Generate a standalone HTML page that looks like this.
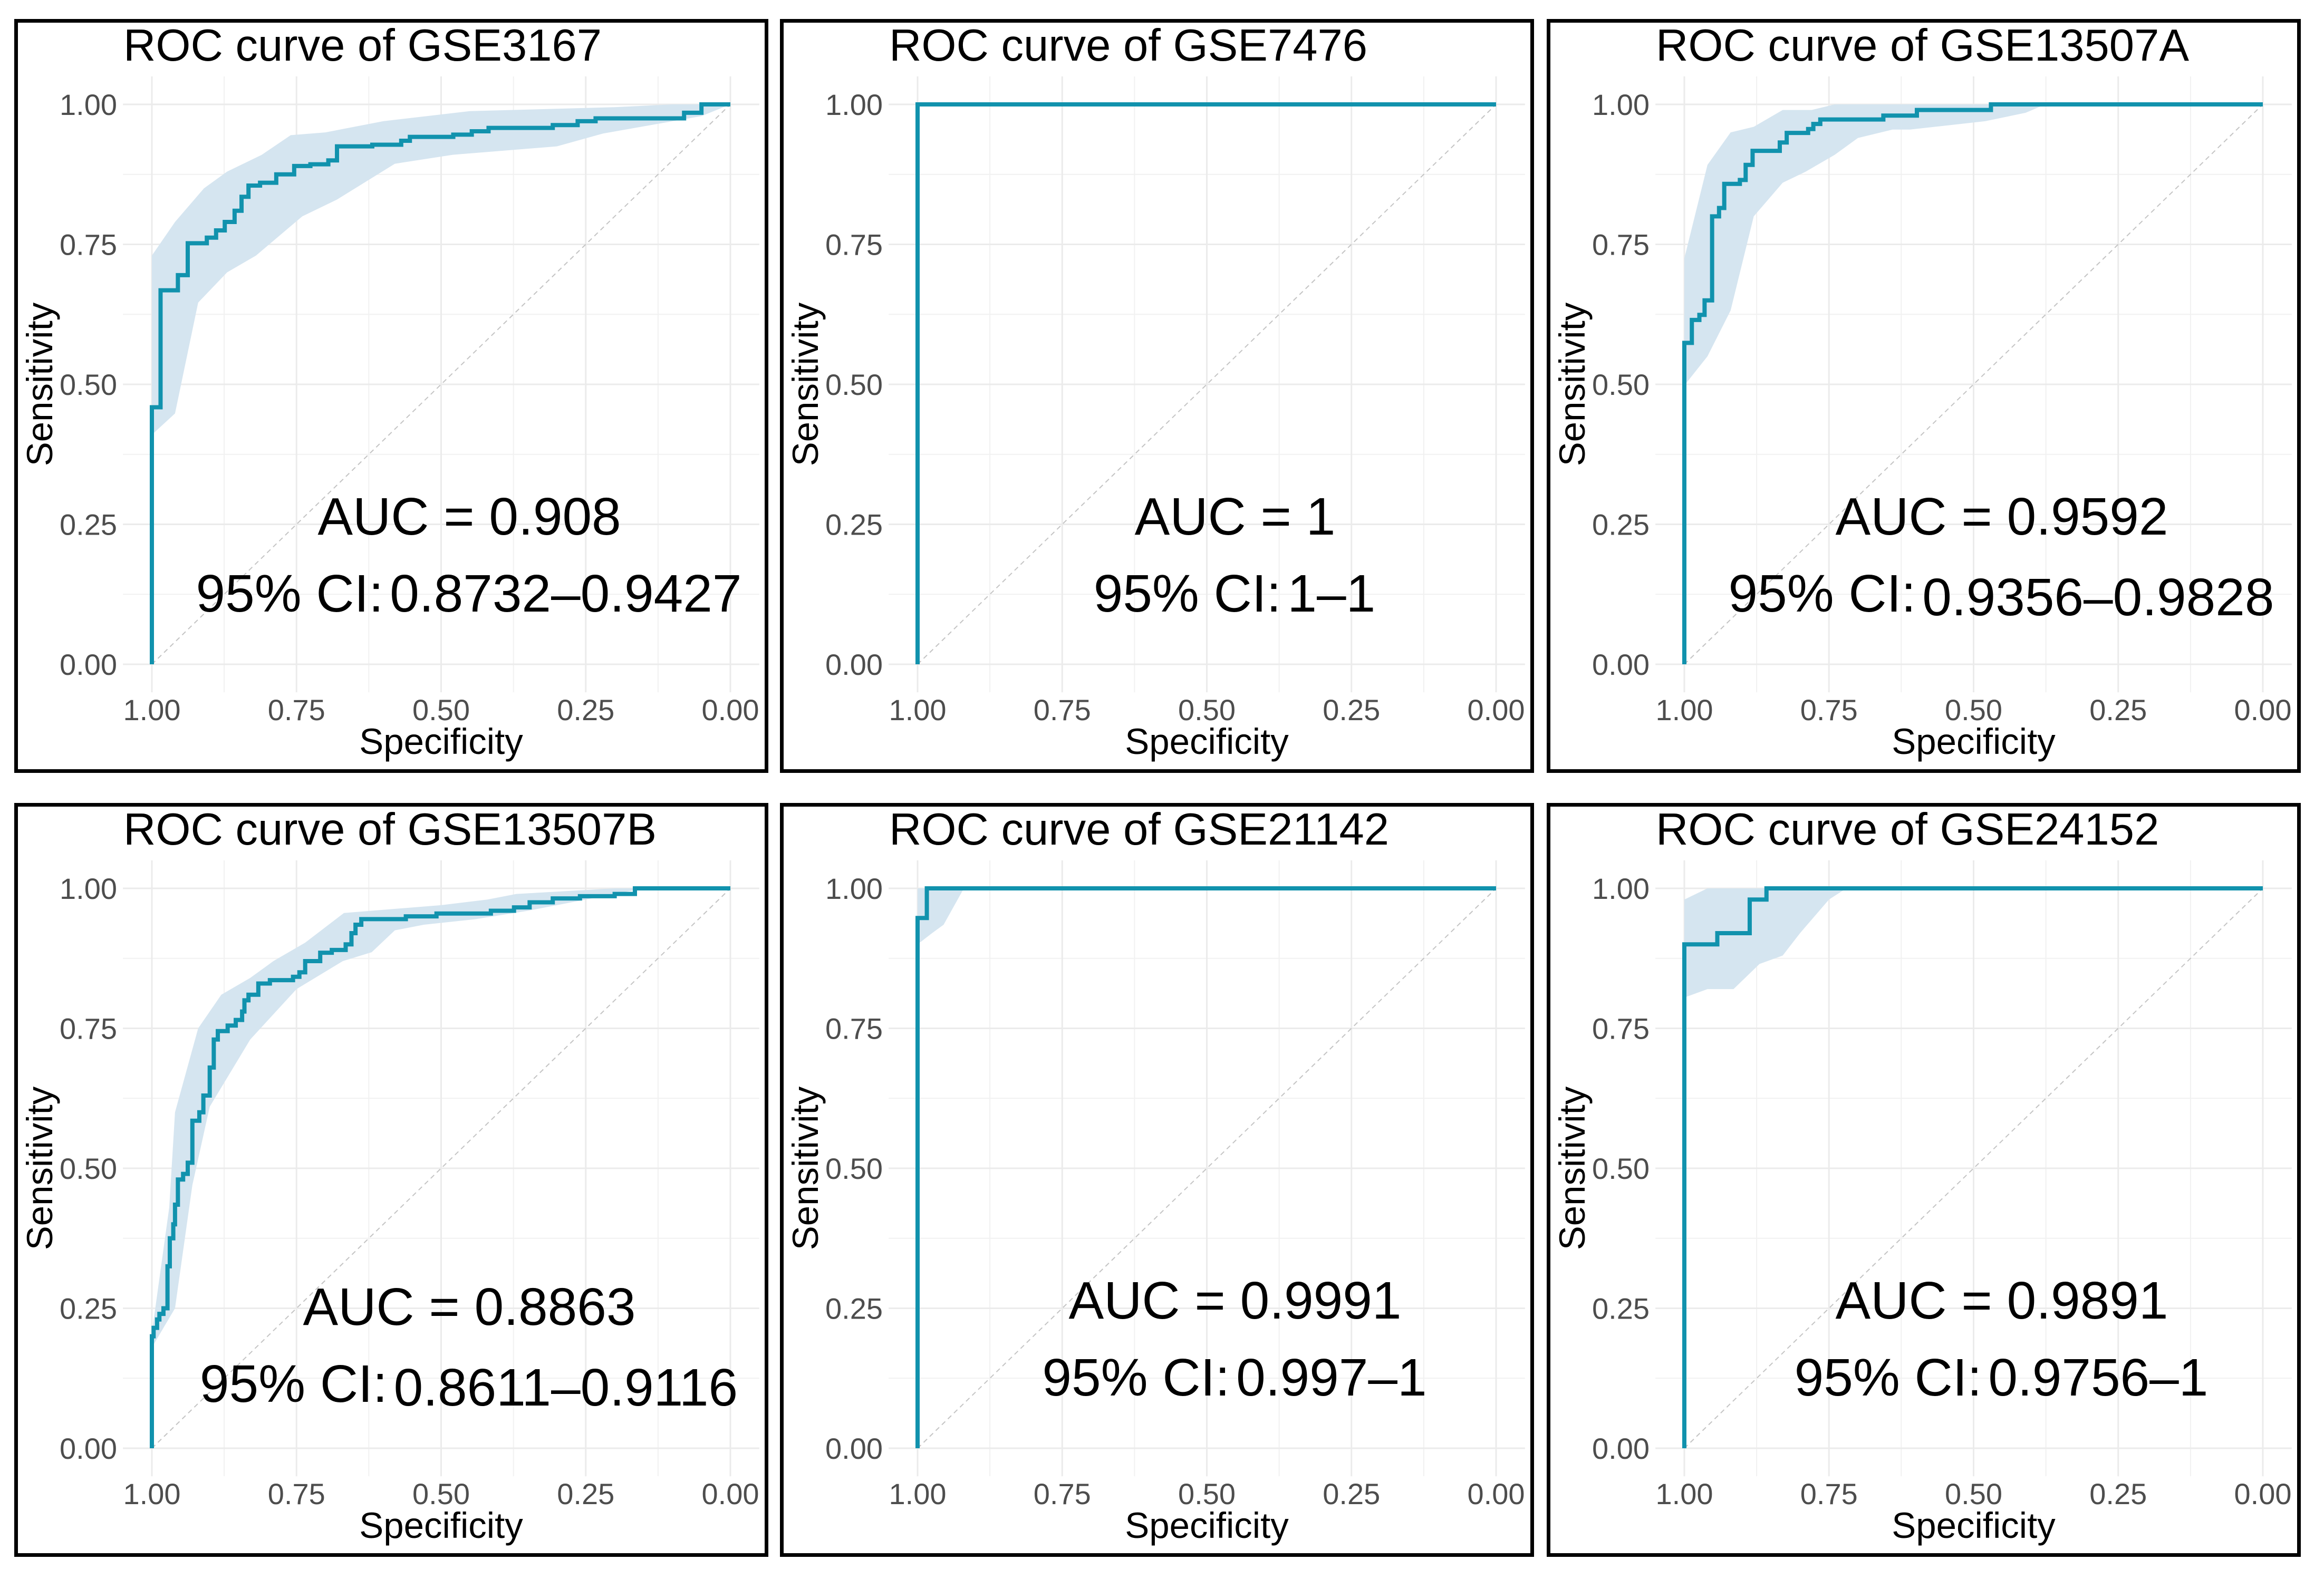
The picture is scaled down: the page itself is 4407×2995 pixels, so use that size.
<!DOCTYPE html>
<html><head><meta charset="utf-8"><style>
html,body{margin:0;padding:0;background:#fff}
svg{display:block}
text{font-family:"Liberation Sans",Arial,sans-serif}
</style></head><body>
<svg id="fig" xmlns="http://www.w3.org/2000/svg" width="4407" height="2995" viewBox="0 0 4407 2995"></svg>
<script>
// ---- data (specificity / sensitivity) ----
const titles = ["ROC curve of GSE3167","ROC curve of GSE7476","ROC curve of GSE13507A","ROC curve of GSE13507B","ROC curve of GSE21142","ROC curve of GSE24152"];
const aucLabels = ["AUC = 0.908","AUC = 1","AUC = 0.9592","AUC = 0.8863","AUC = 0.9991","AUC = 0.9891"];
const ciLabels = ["0.8732\u20130.9427","1\u20131","0.9356\u20130.9828","0.8611\u20130.9116","0.997\u20131","0.9756\u20131"];
const tickVals = [1.00,0.75,0.50,0.25,0.00];
const tickLabels = ["1.00","0.75","0.50","0.25","0.00"];
const minorVals = [0.875,0.625,0.375,0.125];

const p1Spec = [1,.985,.955,.938,.905,.889,.874,.857,.845,.833,.813,.785,.754,.726,.695,.68,.619,.569,.554,.479,.447,.418,.307,.264,.233,.08,.05];
const p1Sens = [.459,.668,.695,.752,.762,.775,.79,.81,.835,.855,.86,.875,.89,.893,.9,.925,.928,.935,.942,.946,.952,.958,.963,.97,.975,.985,1];
const p1HiSpec = [1,.96,.91,.87,.81,.76,.7,.6,.45,.2,.1,0];
const p1Hi = [.73,.79,.85,.88,.91,.945,.95,.97,.988,.995,1,1];
const p1LoSpec = [1,.96,.92,.87,.82,.74,.68,.58,.48,.3,.22,.05,0];
const p1Lo = [.41,.448,.646,.7,.73,.8,.83,.894,.91,.925,.948,.979,1];

const p2Spec = [1];
const p2Sens = [1];
const p2HiSpec = [];
const p2Hi = [];
const p2LoSpec = [];
const p2Lo = [];

const p3Spec = [1,.987,.974,.965,.952,.94,.931,.904,.894,.882,.835,.823,.786,.777,.765,.656,.598,.47];
const p3Sens = [.574,.615,.624,.65,.8,.815,.858,.865,.892,.917,.932,.949,.956,.965,.973,.98,.99,1];
const p3HiSpec = [1,.96,.92,.88,.83,.78,.74,0];
const p3Hi = [.725,.892,.95,.96,.99,.99,1,1];
const p3LoSpec = [1,.96,.92,.88,.83,.79,.74,.7,.64,.61,.48,.41,.385,0];
const p3Lo = [.498,.55,.632,.8,.86,.88,.91,.94,.955,.955,.97,.985,.996,1];

const p4Spec = [1,.997,.991,.987,.98,.973,.969,.963,.96,.955,.946,.938,.93,.918,.911,.9,.893,.886,.869,.855,.844,.84,.833,.816,.796,.756,.745,.735,.709,.689,.665,.655,.648,.638,.561,.508,.414,.374,.347,.307,.26,.2,.165];
const p4Sens = [.2,.215,.23,.24,.25,.325,.375,.4,.435,.48,.49,.51,.585,.6,.63,.68,.73,.745,.755,.765,.78,.8,.81,.83,.836,.842,.85,.87,.885,.89,.9,.92,.935,.945,.95,.955,.96,.966,.975,.982,.986,.99,1];
const p4HiSpec = [1,.97,.96,.92,.88,.83,.79,.735,.668,.5,.42,.37,.2,0];
const p4Hi = [.206,.43,.6,.75,.81,.84,.87,.903,.956,.97,.98,.99,1,1];
const p4LoSpec = [1,.96,.93,.9,.83,.75,.67,.62,.58,.53,.44,.35,.2,.15,0];
const p4Lo = [.18,.25,.47,.61,.73,.82,.87,.886,.925,.935,.945,.96,.99,1,1];

const p5Spec = [1,.984];
const p5Sens = [.947,1];
const p5HiSpec = [1,0];
const p5Hi = [1,1];
const p5LoSpec = [1,.975,.955,.92,0];
const p5Lo = [.9,.92,.935,1,1];

const p6Spec = [1,.943,.887,.858];
const p6Sens = [.9,.92,.98,1];
const p6HiSpec = [1,.96,0];
const p6Hi = [.98,1,1];
const p6LoSpec = [1,.96,.915,.87,.83,.8,.75,.72,0];
const p6Lo = [.805,.82,.82,.865,.88,.92,.98,1,1];

const curveSpecs = [p1Spec,p2Spec,p3Spec,p4Spec,p5Spec,p6Spec];
const curveSens = [p1Sens,p2Sens,p3Sens,p4Sens,p5Sens,p6Sens];
const hiSpecs = [p1HiSpec,p2HiSpec,p3HiSpec,p4HiSpec,p5HiSpec,p6HiSpec];
const his = [p1Hi,p2Hi,p3Hi,p4Hi,p5Hi,p6Hi];
const loSpecs = [p1LoSpec,p2LoSpec,p3LoSpec,p4LoSpec,p5LoSpec,p6LoSpec];
const los = [p1Lo,p2Lo,p3Lo,p4Lo,p5Lo,p6Lo];

// ---- layout ----
const NS = "http://www.w3.org/2000/svg";
const svg = document.getElementById("fig");
const colX = [27,1479,2933];
const rowY = [36,1523];
const PW = 1430, PH = 1430;
const X1 = 261, X0 = 1358, Y1 = 162, Y0 = 1224;
function sx(spec){ return X0 + (X1 - X0) * spec; }
function sy(sens){ return Y0 + (Y1 - Y0) * sens; }
function mk(tag, attrs, parent){
  const e = document.createElementNS(NS, tag);
  for (const k in attrs) e.setAttribute(k, attrs[k]);
  parent.appendChild(e);
  return e;
}

for (let i = 0; i < 6; i++){
  const g = mk("g", {transform:"translate(" + colX[i%3] + "," + rowY[Math.floor(i/3)] + ")"}, svg);
  
  

  const gx0 = sx(1.05), gx1 = sx(-0.05), gy0 = sy(1.05), gy1 = sy(-0.05);
  minorVals.forEach(v => {
    const a = mk("line", {x1:sx(v),x2:sx(v),y1:gy0,y2:gy1,stroke:"#f1f1f1","stroke-width":2}, g);
    
    
    const b = mk("line", {x1:gx0,x2:gx1,y1:sy(v),y2:sy(v),stroke:"#f1f1f1","stroke-width":2}, g);
    
    
  });
  tickVals.forEach((v, k) => {
    const a = mk("line", {x1:sx(v),x2:sx(v),y1:gy0,y2:gy1,stroke:"#ebebeb","stroke-width":3}, g);
    
    
    const b = mk("line", {x1:gx0,x2:gx1,y1:sy(v),y2:sy(v),stroke:"#ebebeb","stroke-width":3}, g);
    
    
    const tx = mk("text", {x:sx(v), y:1330, "font-size":56, fill:"#4d4d4d", "text-anchor":"middle"}, g);
    tx.textContent = tickLabels[k];
    
    
    const ty = mk("text", {x:195, y:sy(v)+20, "font-size":56, fill:"#4d4d4d", "text-anchor":"end"}, g);
    ty.textContent = tickLabels[k];
    
    
  });

  const hs = hiSpecs[i], hv = his[i], ls = loSpecs[i], lv = los[i];
  if (hs.length){
    let d = "M" + sx(hs[0]) + "," + sy(hv[0]);
    for (let k = 1; k < hs.length; k++) d += " L" + sx(hs[k]) + "," + sy(hv[k]);
    for (let k = ls.length-1; k >= 0; k--) d += " L" + sx(ls[k]) + "," + sy(lv[k]);
    d += " Z";
    const band = mk("path", {d:d, fill:"#d5e5f0"}, g);
    
    
  }

  const diag = mk("line", {x1:sx(1),y1:sy(0),x2:sx(0),y2:sy(1),stroke:"#c4c4c4","stroke-width":2,"stroke-dasharray":"9 7"}, g);
  
  

  const cs = curveSpecs[i], cv = curveSens[i];
  let d = "M" + sx(1) + "," + sy(0);
  for (let k = 0; k < cs.length; k++){
    d += " L" + sx(cs[k]) + "," + sy(cv[k]);
    const nextSpec = k + 1 < cs.length ? cs[k+1] : 0;
    d += " L" + sx(nextSpec) + "," + sy(cv[k]);
  }
  const curve = mk("path", {d:d, fill:"none", stroke:"#1192ad", "stroke-width":8, "stroke-linejoin":"miter"}, g);
  
  

  const t = mk("text", {x:207, y:79, "font-size":85, fill:"#000"}, g);
  t.textContent = titles[i];
  
  

  const xt = mk("text", {x:(sx(0)+sx(1))/2, y:1394, "font-size":69, fill:"#000", "text-anchor":"middle"}, g);
  xt.textContent = "Specificity";
  
  

  const yc = (sy(0)+sy(1))/2;
  const yt = mk("text", {x:72, y:yc, "font-size":69, fill:"#000", "text-anchor":"middle", transform:"rotate(-90 72 " + yc + ")"}, g);
  yt.textContent = "Sensitivity";
  
  

  const off = (i === 3) ? 12 : 0;
  const au = mk("text", {x:863, y:978+off, "font-size":100, fill:"#000", "text-anchor":"middle"}, g);
  au.textContent = aucLabels[i];
  
  

  const ci = mk("text", {x:862, y:1124+off, "font-size":100, fill:"#000", "text-anchor":"middle"}, g);
  
  
  const ts1 = mk("tspan", {}, ci);
  ts1.textContent = "95% CI:";
  const shift = (i === 2 || i === 3) ? 7 : 0;
  const ts2 = mk("tspan", {dx:12, dy:shift}, ci);
  ts2.textContent = ciLabels[i];

  const br = mk("rect", {x:3.5, y:3.5, width:PW-7, height:PH-7, fill:"none", stroke:"#000", "stroke-width":7}, g);
  
  
}
</script>
</body></html>
